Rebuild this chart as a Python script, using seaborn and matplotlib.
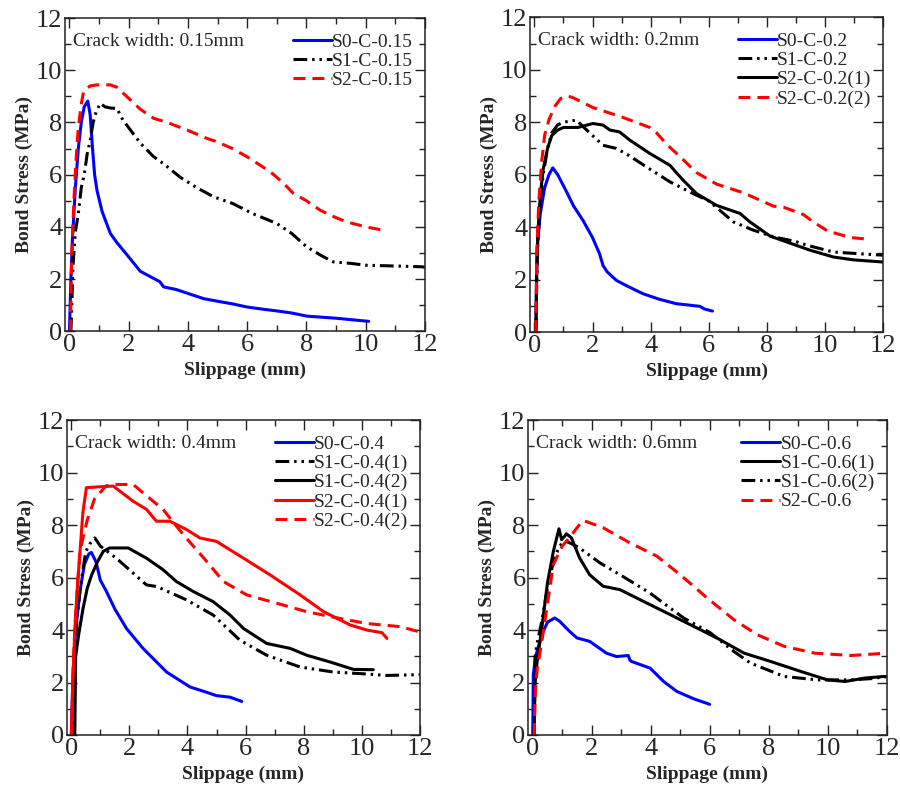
import numpy as np
import pandas as pd
import seaborn as sns
import matplotlib
matplotlib.use("Agg")
import matplotlib.pyplot as plt
from matplotlib.ticker import MultipleLocator

# ---- data (slippage mm, bond stress MPa) ----
# crack width 0.15mm
s0_015_x = [0.0, 0.05, 0.1, 0.2, 0.3, 0.4, 0.5, 0.62, 0.7, 0.78, 0.85, 0.93, 1.1, 1.38, 1.6, 2.0, 2.39, 2.8, 3.05, 3.18, 3.6, 4.0, 4.53, 5.0, 5.5, 5.99, 6.5, 7.0, 7.5, 8.01, 9.0, 10.1]
s0_015_y = [0.0, 2.0, 3.5, 5.5, 7.0, 8.0, 8.6, 8.82, 8.3, 7.0, 6.0, 5.4, 4.6, 3.75, 3.4, 2.85, 2.3, 2.05, 1.9, 1.7, 1.6, 1.45, 1.25, 1.15, 1.05, 0.93, 0.85, 0.78, 0.7, 0.58, 0.5, 0.38]
s1_015_x = [0.05, 0.08, 0.12, 0.2, 0.3, 0.4, 0.5, 0.6, 0.7, 0.8, 0.9, 1.04, 1.2, 1.4, 1.6, 1.8, 2.0, 2.4, 2.84, 3.2, 3.74, 4.3, 4.87, 5.5, 6.2, 7.0, 7.5, 8.0, 8.5, 8.9, 9.5, 10.0, 11.0, 11.9, 12.0]
s1_015_y = [0.0, 1.0, 2.5, 3.8, 4.5, 5.5, 6.0, 6.8, 7.3, 8.0, 8.4, 8.73, 8.6, 8.55, 8.54, 8.1, 7.8, 7.2, 6.69, 6.4, 5.9, 5.5, 5.15, 4.9, 4.5, 4.13, 3.75, 3.24, 2.9, 2.66, 2.6, 2.53, 2.5, 2.47, 2.45]
s2_015_x = [0.03, 0.08, 0.15, 0.22, 0.3, 0.4, 0.48, 0.7, 0.93, 1.38, 1.6, 1.94, 2.4, 2.84, 3.3, 3.97, 4.64, 4.98, 5.5, 5.99, 6.78, 7.2, 7.56, 8.0, 8.46, 9.0, 9.36, 10.0, 10.6]
s2_015_y = [0.0, 3.0, 5.0, 6.5, 7.8, 8.7, 9.2, 9.4, 9.44, 9.44, 9.35, 8.99, 8.5, 8.16, 8.0, 7.71, 7.39, 7.26, 7.0, 6.69, 6.11, 5.7, 5.28, 5.0, 4.64, 4.35, 4.19, 4.0, 3.87]

# crack width 0.2mm
s0_02_x = [0.05, 0.07, 0.1, 0.2, 0.35, 0.5, 0.63, 0.8, 1.09, 1.35, 1.67, 2.0, 2.24, 2.36, 2.5, 2.82, 3.2, 3.74, 4.3, 4.89, 5.3, 5.7, 5.85, 6.13]
s0_02_y = [0.0, 2.0, 3.3, 4.5, 5.5, 6.0, 6.26, 6.0, 5.38, 4.8, 4.26, 3.6, 2.99, 2.54, 2.3, 1.97, 1.75, 1.46, 1.25, 1.08, 1.03, 0.98, 0.88, 0.8]
s1_02_x = [0.05, 0.08, 0.12, 0.2, 0.3, 0.45, 0.6, 0.8, 1.0, 1.44, 1.8, 2.36, 2.82, 3.3, 3.85, 4.66, 5.35, 6.0, 6.85, 7.5, 8.23, 9.0, 9.38, 10.3, 11.0, 12.0]
s1_02_y = [0.0, 2.0, 3.5, 5.0, 6.0, 7.0, 7.6, 7.9, 8.0, 8.08, 7.7, 7.12, 7.0, 6.7, 6.3, 5.73, 5.34, 5.0, 4.2, 3.9, 3.63, 3.45, 3.31, 3.05, 3.0, 2.93]
s2a_02_x = [0.05, 0.08, 0.12, 0.2, 0.3, 0.45, 0.6, 0.8, 1.0, 1.5, 2.01, 2.36, 2.6, 2.93, 3.28, 3.97, 4.66, 5.12, 5.58, 6.27, 7.08, 7.42, 8.11, 9.49, 10.3, 11.0, 12.0]
s2a_02_y = [0.0, 2.5, 3.8, 5.2, 6.2, 7.0, 7.5, 7.7, 7.8, 7.8, 7.95, 7.89, 7.7, 7.63, 7.32, 6.81, 6.36, 5.79, 5.28, 4.83, 4.52, 4.2, 3.66, 3.12, 2.86, 2.75, 2.67]
s2b_02_x = [0.05, 0.08, 0.15, 0.25, 0.35, 0.5, 0.7, 0.9, 1.1, 1.3, 2.01, 3.05, 3.97, 4.2, 4.55, 5.0, 5.58, 6.27, 7.19, 8.23, 8.6, 9.26, 9.6, 10.1, 10.9, 11.5]
s2b_02_y = [0.0, 3.0, 5.0, 6.5, 7.5, 8.1, 8.6, 8.9, 9.0, 8.95, 8.56, 8.18, 7.8, 7.6, 7.16, 6.7, 6.08, 5.64, 5.31, 4.8, 4.75, 4.48, 4.2, 3.85, 3.6, 3.54]

# crack width 0.4mm
s0_04_x = [0.0, 0.05, 0.15, 0.3, 0.45, 0.6, 0.69, 0.85, 1.0, 1.21, 1.5, 1.9, 2.47, 3.28, 4.09, 4.6, 5.0, 5.47, 5.87]
s0_04_y = [0.0, 2.0, 4.0, 5.5, 6.5, 6.9, 6.96, 6.6, 5.9, 5.47, 4.8, 4.06, 3.3, 2.4, 1.83, 1.65, 1.5, 1.44, 1.28]
s1a_04_x = [0.1, 0.12, 0.2, 0.3, 0.4, 0.5, 0.65, 0.81, 1.0, 1.55, 2.0, 2.59, 2.94, 3.97, 4.89, 5.81, 6.73, 7.88, 9.03, 9.95, 10.87, 12.0]
s1a_04_y = [0.0, 3.0, 4.5, 5.5, 6.3, 7.0, 7.3, 7.51, 7.2, 6.74, 6.3, 5.72, 5.66, 5.15, 4.57, 3.61, 3.04, 2.59, 2.4, 2.34, 2.27, 2.3]
s1b_04_x = [0.12, 0.15, 0.25, 0.4, 0.55, 0.7, 0.9, 1.1, 1.32, 1.96, 2.59, 3.16, 3.62, 4.2, 4.89, 5.47, 5.93, 6.73, 7.54, 8.11, 8.92, 9.72, 10.4]
s1b_04_y = [0.0, 3.0, 3.8, 4.8, 5.6, 6.1, 6.6, 7.0, 7.13, 7.13, 6.74, 6.3, 5.85, 5.47, 5.08, 4.57, 4.06, 3.49, 3.3, 3.04, 2.78, 2.5, 2.49]
s2a_04_x = [0.0, 0.05, 0.12, 0.2, 0.3, 0.4, 0.52, 0.8, 1.44, 2.13, 2.59, 2.93, 3.39, 3.97, 4.43, 5.0, 5.93, 6.85, 7.88, 8.69, 9.61, 10.18, 10.7, 10.87]
s2a_04_y = [0.0, 2.0, 4.0, 5.5, 7.0, 8.5, 9.43, 9.45, 9.49, 8.91, 8.6, 8.15, 8.15, 7.83, 7.51, 7.38, 6.74, 6.1, 5.34, 4.7, 4.19, 4.0, 3.9, 3.68]
s2b_04_x = [0.02, 0.06, 0.12, 0.2, 0.3, 0.4, 0.55, 0.8, 1.2, 1.5, 2.13, 2.47, 3.16, 3.62, 3.91, 4.66, 5.24, 6.04, 7.08, 8.11, 9.26, 10.18, 11.33, 12.0]
s2b_04_y = [0.0, 2.5, 4.0, 5.5, 7.0, 7.5, 8.2, 9.0, 9.5, 9.55, 9.55, 9.23, 8.6, 7.96, 7.57, 6.62, 5.85, 5.34, 5.02, 4.7, 4.44, 4.25, 4.13, 3.93]

# crack width 0.6mm
s0_06_x = [0.0, 0.02, 0.1, 0.3, 0.5, 0.74, 0.9, 1.25, 1.5, 1.93, 2.5, 2.84, 3.24, 3.3, 3.36, 3.98, 4.44, 4.89, 5.46, 6.0]
s0_06_y = [0.0, 2.3, 3.0, 3.8, 4.3, 4.46, 4.35, 3.95, 3.7, 3.57, 3.12, 2.99, 3.03, 2.85, 2.8, 2.55, 2.04, 1.66, 1.38, 1.17]
s1a_06_x = [0.05, 0.08, 0.15, 0.3, 0.5, 0.7, 0.89, 0.98, 1.1, 1.14, 1.31, 1.59, 1.93, 2.39, 2.96, 3.87, 4.66, 5.46, 6.26, 7.17, 8.08, 9.1, 10.0, 10.6, 11.26, 11.9, 12.0]
s1a_06_y = [0.0, 2.0, 2.8, 4.0, 5.8, 7.0, 7.86, 7.45, 7.6, 7.67, 7.52, 6.75, 6.11, 5.67, 5.54, 5.03, 4.59, 4.14, 3.69, 3.12, 2.8, 2.42, 2.1, 2.04, 2.17, 2.23, 2.22]
s1b_06_x = [0.05, 0.08, 0.15, 0.3, 0.5, 0.7, 0.9, 1.1, 1.3, 1.59, 2.28, 2.96, 3.98, 4.66, 5.12, 6.03, 6.83, 7.39, 8.53, 9.67, 10.8, 11.5, 12.0]
s1b_06_y = [0.0, 3.0, 3.5, 4.3, 5.6, 6.6, 7.2, 7.4, 7.3, 7.13, 6.56, 6.11, 5.41, 4.84, 4.46, 3.89, 3.18, 2.74, 2.23, 2.1, 2.1, 2.15, 2.23]
s2_06_x = [0.05, 0.08, 0.15, 0.3, 0.5, 0.7, 1.0, 1.3, 1.5, 1.71, 2.39, 3.3, 4.21, 5.0, 5.92, 6.83, 7.62, 8.53, 9.56, 10.8, 12.0]
s2_06_y = [0.0, 1.5, 2.5, 3.5, 5.0, 6.5, 7.2, 7.6, 7.9, 8.18, 7.9, 7.32, 6.82, 6.11, 5.22, 4.39, 3.82, 3.38, 3.12, 3.03, 3.12]

# line styles
SOLID = "-"
DASH = (0, (3.9, 2.3))
DASH_DOT_DOT = (0, (4.5, 1.6, 0.8, 1.6, 0.8, 1.6))
BLUE = "#0000ff"
RED = "#ff0000"
BLACK = "#000000"

panels = [
    ("Crack width: 0.15mm", [
        ("S0-C-0.15", s0_015_x, s0_015_y, BLUE, SOLID),
        ("S1-C-0.15", s1_015_x, s1_015_y, BLACK, DASH_DOT_DOT),
        ("S2-C-0.15", s2_015_x, s2_015_y, RED, DASH),
    ]),
    ("Crack width: 0.2mm", [
        ("S0-C-0.2", s0_02_x, s0_02_y, BLUE, SOLID),
        ("S1-C-0.2", s1_02_x, s1_02_y, BLACK, DASH_DOT_DOT),
        ("S2-C-0.2(1)", s2a_02_x, s2a_02_y, BLACK, SOLID),
        ("S2-C-0.2(2)", s2b_02_x, s2b_02_y, RED, DASH),
    ]),
    ("Crack width: 0.4mm", [
        ("S0-C-0.4", s0_04_x, s0_04_y, BLUE, SOLID),
        ("S1-C-0.4(1)", s1a_04_x, s1a_04_y, BLACK, DASH_DOT_DOT),
        ("S1-C-0.4(2)", s1b_04_x, s1b_04_y, BLACK, SOLID),
        ("S2-C-0.4(1)", s2a_04_x, s2a_04_y, RED, SOLID),
        ("S2-C-0.4(2)", s2b_04_x, s2b_04_y, RED, DASH),
    ]),
    ("Crack width: 0.6mm", [
        ("S0-C-0.6", s0_06_x, s0_06_y, BLUE, SOLID),
        ("S1-C-0.6(1)", s1a_06_x, s1a_06_y, BLACK, SOLID),
        ("S1-C-0.6(2)", s1b_06_x, s1b_06_y, BLACK, DASH_DOT_DOT),
        ("S2-C-0.6", s2_06_x, s2_06_y, RED, DASH),
    ]),
]

rects = [
    [0.0722, 0.578, 0.400, 0.399],
    [0.589, 0.577, 0.392, 0.401],
    [0.0744, 0.0637, 0.392, 0.401],
    [0.587, 0.0637, 0.398, 0.401],
]

sns.set_style("ticks")
plt.rcParams["font.family"] = ["Liberation Serif", "DejaVu Serif"]

fig = plt.figure(figsize=(9, 7.85), dpi=100)

for (title, series), rect in zip(panels, rects):
    ax = fig.add_axes(rect)
    for name, xs, ys, color, ls in series:
        df = pd.DataFrame({"slip": xs, "stress": ys})
        sns.lineplot(data=df, x="slip", y="stress", ax=ax, color=color,
                     linestyle=ls, linewidth=2.2, sort=False, estimator=None,
                     label=name)

    ax.set_xlim(-0.15, 12)
    ax.set_ylim(0, 12)
    ax.xaxis.set_major_locator(MultipleLocator(2))
    ax.xaxis.set_minor_locator(MultipleLocator(1))
    ax.yaxis.set_major_locator(MultipleLocator(2))
    ax.yaxis.set_minor_locator(MultipleLocator(1))
    ax.tick_params(which="both", direction="in", top=True, right=True,
                   width=1.0, color="#222222")
    ax.tick_params(which="major", length=7, labelsize=19, pad=2)
    ax.tick_params(which="minor", length=4)
    for sp in ax.spines.values():
        sp.set_linewidth(1.1)
        sp.set_color("#222222")

    ax.set_xlabel("Slippage (mm)", fontsize=14, fontweight="bold", labelpad=4)
    ax.set_ylabel("Bond Stress (MPa)", fontsize=14, fontweight="bold", labelpad=2)

    ax.text(0.022, 0.925, title, transform=ax.transAxes, fontsize=14,
            ha="left", va="center")

    # legend box inset from the top-right corner
    w_px = rect[2] * 900
    h_px = rect[3] * 785
    ax.legend(loc="upper right", bbox_to_anchor=(1 - 12 / w_px, 1 - 15 / h_px),
              frameon=False, fontsize=14, handlelength=2.0, handletextpad=0.0,
              labelspacing=0.08, borderaxespad=0.0, borderpad=0.0)

fig.savefig("out.png", dpi=100)
plt.close(fig)
